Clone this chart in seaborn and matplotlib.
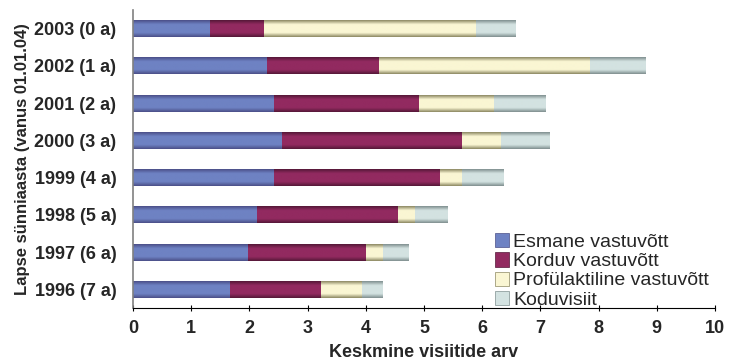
import numpy as np
import pandas as pd
import matplotlib
matplotlib.use("Agg")
import matplotlib.pyplot as plt
import seaborn as sns
from matplotlib.colors import LinearSegmentedColormap
from matplotlib.patches import Patch

categories = ["2003 (0 a)", "2002 (1 a)", "2001 (2 a)", "2000 (3 a)",
              "1999 (4 a)", "1998 (5 a)", "1997 (6 a)", "1996 (7 a)"]
esmane = [1.32, 2.29, 2.41, 2.56, 2.41, 2.13, 1.96, 1.65]
korduv = [0.93, 1.92, 2.50, 3.08, 2.86, 2.41, 2.03, 1.58]
profulaktiline = [3.64, 3.64, 1.29, 0.67, 0.37, 0.29, 0.29, 0.70]
koduvisiit = [0.69, 0.95, 0.88, 0.85, 0.72, 0.58, 0.46, 0.35]
series_names = ["Esmane vastuvõtt", "Korduv vastuvõtt",
                "Profülaktiline vastuvõtt", "Koduvisiit"]
x_ticks = list(range(0, 11))

main_colors = ["#6E82C3", "#922A60", "#FAF6D3", "#D3E2E1"]
edge_colors = ["#4B4F88", "#551838", "#8C8862", "#7F8F8F"]

sns.set_theme(style="white")
plt.rcParams["font.family"] = ["Liberation Sans", "DejaVu Sans"]

fig = plt.figure(figsize=(7.31, 3.62), dpi=100)
ax = fig.add_axes([133 / 731, 1 - 308 / 362, (715 - 133) / 731, 298 / 362])

values = np.array([esmane, korduv, profulaktiline, koduvisiit])
cumulative = np.cumsum(values, axis=0)

# Draw cumulative totals from the outermost segment inwards so each
# stack segment shows the right portion.
bar_groups = []
for i in range(3, -1, -1):
    df = pd.DataFrame({"kategooria": categories, "vaartus": cumulative[i]})
    n_before = len(ax.patches)
    sns.barplot(data=df, x="vaartus", y="kategooria", orient="h",
                color=main_colors[i], width=0.45, saturation=1,
                linewidth=0, ax=ax, zorder=2)
    bar_groups.append((i, ax.patches[n_before:]))

# Cylinder-like shading across each bar
for i, patches in bar_groups:
    cmap = LinearSegmentedColormap.from_list(
        f"shade{i}",
        [edge_colors[i], main_colors[i], main_colors[i], main_colors[i], edge_colors[i]])
    grad = np.linspace(0, 1, 64).reshape(-1, 1)
    for p in patches:
        x0, y0 = p.get_x(), p.get_y()
        w, h = p.get_width(), p.get_height()
        p.set_facecolor("none")
        im = ax.imshow(grad, cmap=cmap, aspect="auto",
                       extent=(x0, x0 + w, y0 + h, y0), zorder=2 + (4 - i) * 0.1,
                       interpolation="bilinear")
        im.set_clip_path(p)

ax.set_xlim(0, 10)
ax.set_ylim(7.5, -0.5)
ax.set_xticks(x_ticks)
ax.set_xticklabels([str(t) for t in x_ticks], fontsize=13, fontweight="bold")
ax.set_yticks(range(len(categories)))
ax.set_yticklabels(categories, fontsize=13, fontweight="bold")
ax.set_xlabel("Keskmine visiitide arv", fontsize=13, fontweight="bold", labelpad=5)
ax.set_ylabel("Lapse sünniaasta (vanus 01.01.04)", fontsize=12,
              fontweight="bold", labelpad=3)

for s in ["top", "right"]:
    ax.spines[s].set_visible(False)
ax.spines["left"].set_color("#808080")
ax.spines["left"].set_linewidth(1.2)
ax.spines["bottom"].set_color("black")
ax.spines["bottom"].set_linewidth(0.8)
ax.tick_params(axis="x", which="both", bottom=True, length=5, width=0.8,
               direction="inout", color="black", pad=6)
ax.tick_params(axis="y", left=False, pad=6)

handles = [Patch(facecolor=main_colors[i], edgecolor=edge_colors[i], linewidth=0.5)
           for i in range(4)]
ax.legend(handles, series_names, loc="lower left", bbox_to_anchor=(0.605, -0.035),
          frameon=False, fontsize=14, handlelength=0.75, handleheight=0.75,
          handletextpad=0.2, labelspacing=0.07, borderaxespad=0.1)

fig.savefig("out.png", dpi=100)
